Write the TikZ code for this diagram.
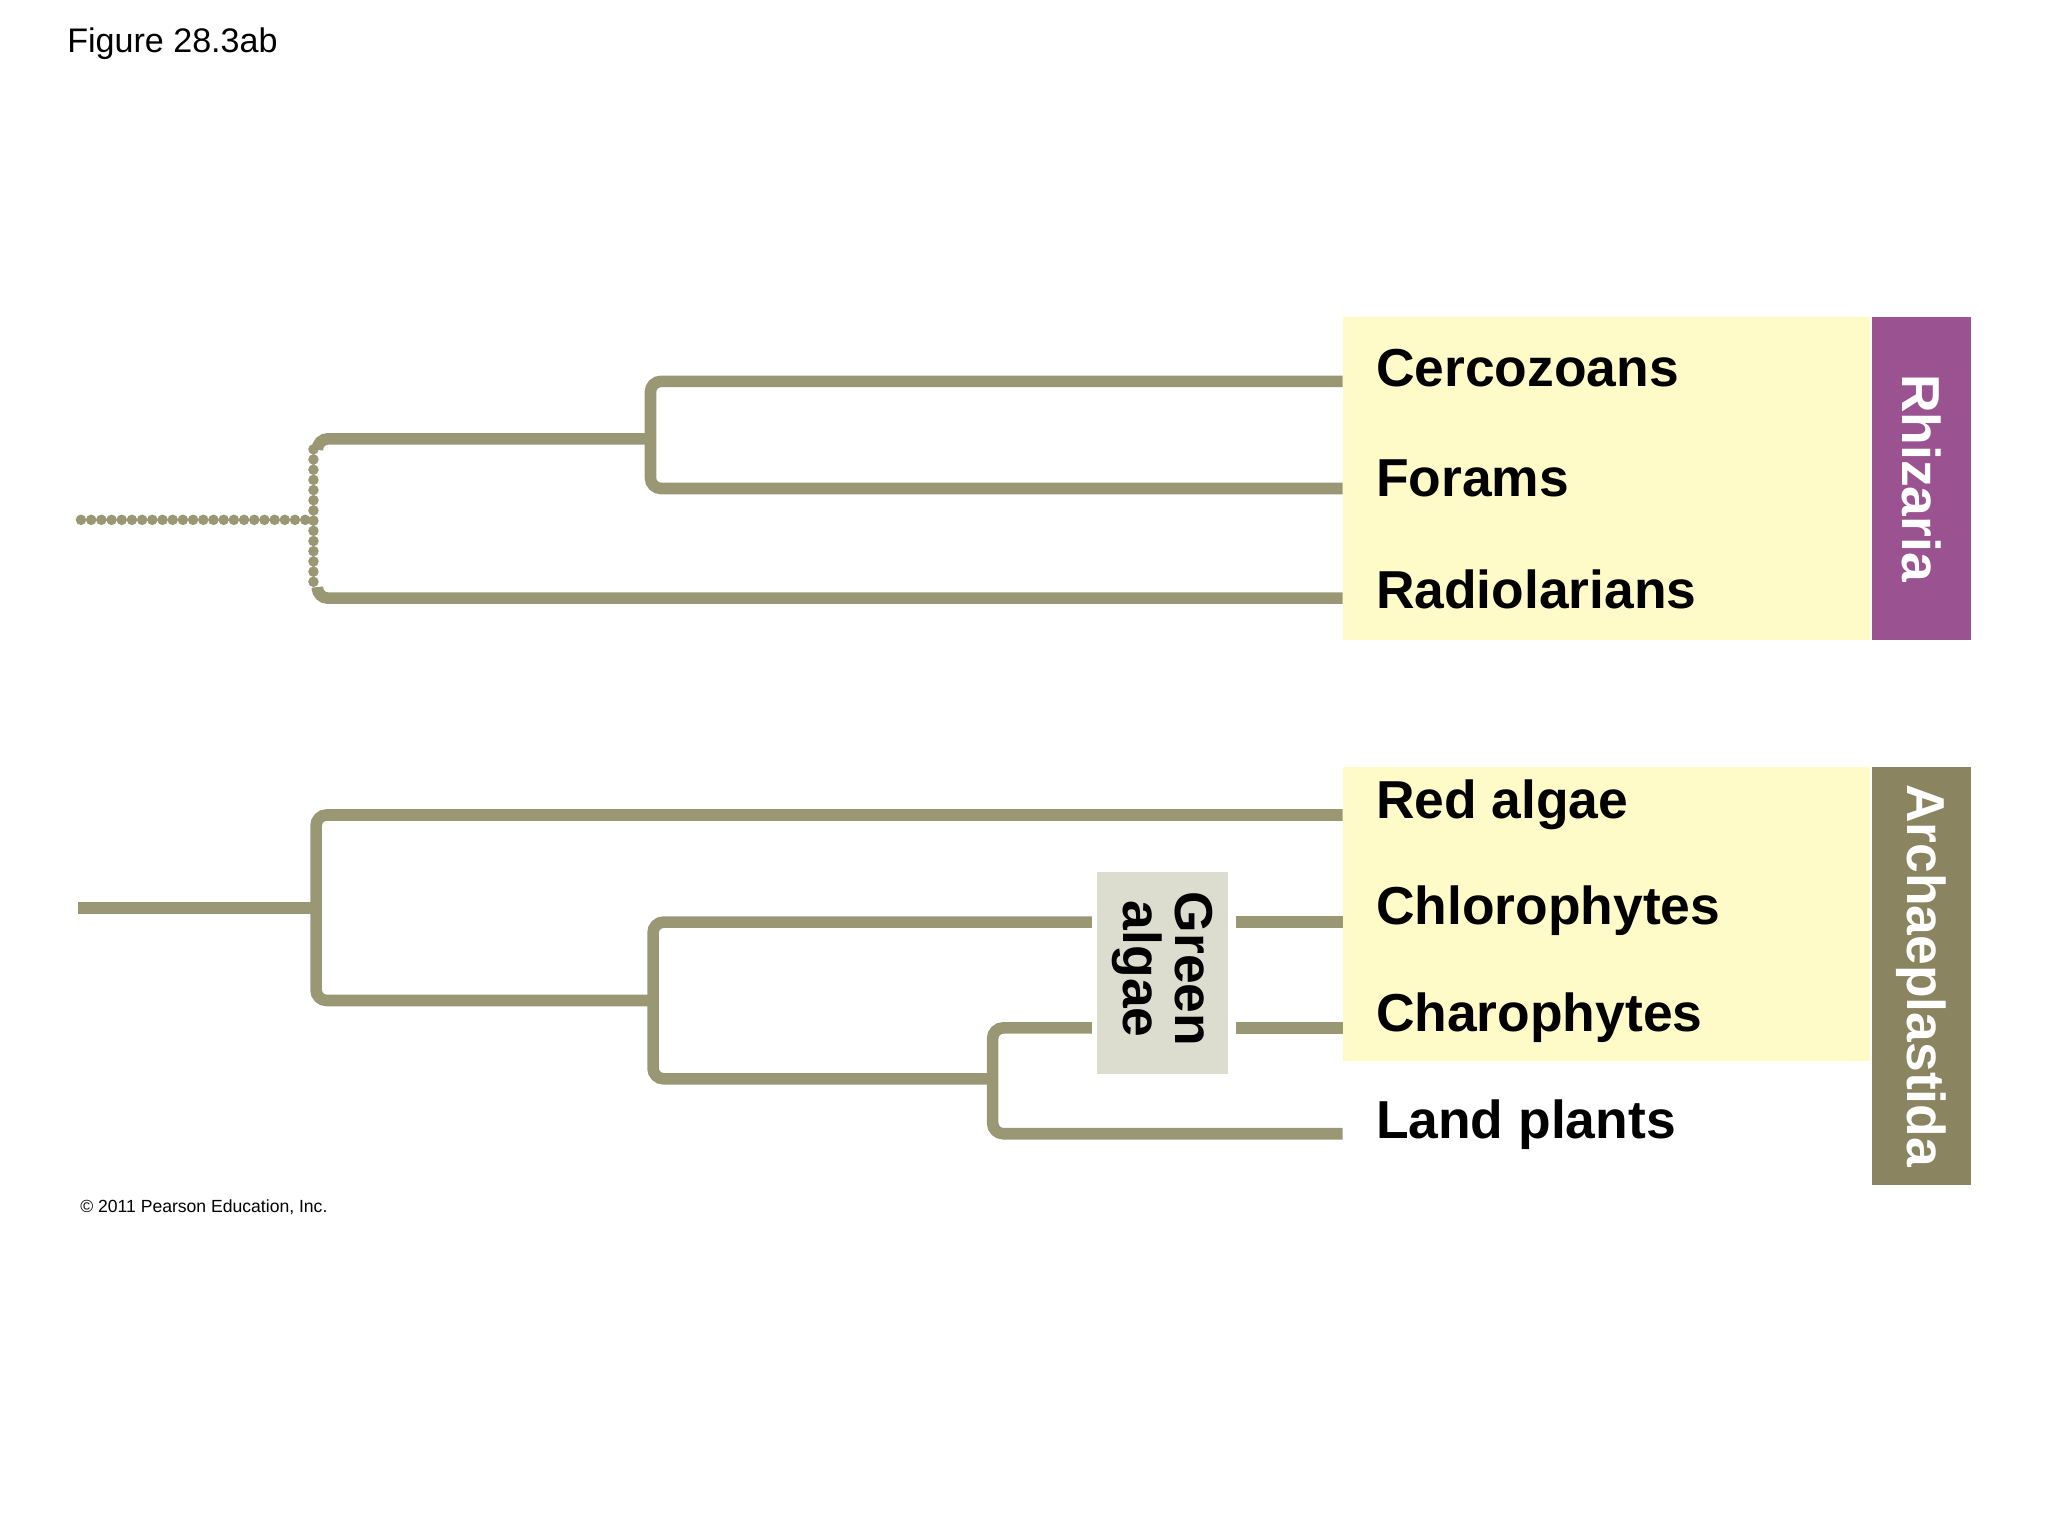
\documentclass[tikz,border=0pt]{standalone}
\usepackage{fontspec}
\setmainfont{Liberation Sans}
\usetikzlibrary{positioning,calc}
\definecolor{branch}{HTML}{9A9874}
\definecolor{paleyellow}{HTML}{FFFBC8}
\definecolor{rhizcol}{HTML}{9B5290}
\definecolor{archcol}{HTML}{8A8560}
\definecolor{greenbox}{HTML}{DCDCCF}
\tikzset{
branch/.style = {draw=branch, line width=3.3pt, rounded corners=3pt},
dots/.style   = {draw=branch, line width=3pt, line cap=round, dash pattern=on 0pt off 2.9pt},
taxon/.style  = {anchor=west, font=\fontsize{15.2}{18}\selectfont\bfseries},
group/.style  = {anchor=center, rotate=-90, text=white, font=\fontsize{15.2}{18}\selectfont\bfseries},
tmp/.style    = {coordinate}
}
\begin{document}
\begin{tikzpicture}[x=0.013061cm, y=-0.013061cm]
  \useasboundingbox (0,0) rectangle (1568,1176);

  % boxes
  \fill [paleyellow] (1028,243) rectangle (1432,490);
  \fill [paleyellow] (1028,587) rectangle (1432,812);
  \fill [rhizcol] (1433,243) rectangle (1509,490);
  \fill [archcol] (1433,587) rectangle (1509,907);
  \node [group] (rhiz) at (1471,366) {Rhizaria};
  \node [group] (arch) at (1471,747) {Archaeplastida};

  \node [anchor=base west, font=\fontsize{9.7}{12}\selectfont] (title) at (42,40) {Figure 28.3ab};
  \node [anchor=west, font=\fontsize{5}{6}\selectfont] (copy) at (52,924) {\textcopyright\ 2011 Pearson Education, Inc.};

  % taxa
  \node [taxon] (cerc)  at (1044,282) {Cercozoans};
  \node [taxon] (foram) at (1044,366) {Forams};
  \node [taxon] (radio) at (1044,451) {Radiolarians};
  \node [taxon] (red)   at (1044,616) {Red algae};
  \node [taxon] (chlor) at (1044,697) {Chlorophytes};
  \node [taxon] (charo) at (1044,779) {Charophytes};
  \node [taxon] (land)  at (1044,861) {Land plants};

  % Rhizaria tree
  \node [tmp] (rroot) at (62,398) {};
  \node [tmp] (rnode) at (240,398) {};
  \draw [dots] (rroot) -- (rnode);
  \draw [dots] (240,344) -- (240,452);
  \draw [branch] (243,344) -- (243,336) -- (498,336);
  \draw [branch] (1028,292) -- (498,292) -- (498,374) -- (1028,374);
  \draw [branch] (243,452) -- (243,458) -- (1028,458);

  % Archaeplastida tree
  \draw [branch] (60,695) -- (242,695);
  \draw [branch] (1028,624) -- (242,624) -- (242,766) -- (500,766);
  \draw [branch] (836,706) -- (500,706) -- (500,826) -- (760,826);
  \draw [branch] (836,787) -- (760,787) -- (760,868) -- (1028,868);
  \draw [branch] (946,706) -- (1028,706);
  \draw [branch] (946,787) -- (1028,787);

  % green algae label
  \fill [greenbox] (840,668) rectangle (940,822);
  \node [group, text=black, align=center] (green) at (890,742) {Green\\[-3pt]algae};
\end{tikzpicture}
\end{document}
